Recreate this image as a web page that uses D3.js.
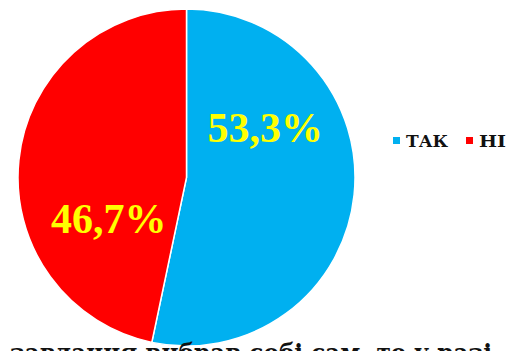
<!DOCTYPE html>
<html>
<head>
<meta charset="utf-8">
<script src="https://cdn.jsdelivr.net/npm/d3@7"></script>
<style>
  html, body { margin: 0; padding: 0; background: #fff; overflow: hidden; }
  svg { display: block; }
</style>
</head>
<body>
<svg id="chart" width="521" height="351"></svg>
<script>
// Survey answer shares (percent)
const categories = ["ТАК", "НІ"];
const values = [53.3, 46.7];
const colors = ["#00B0F0", "#FF0000"];
const caption = "завдання вибрав собі сам, то у разі";

const W = 521, H = 351;
const cx = 186.5, cy = 177.5, radius = 168.5;
const serif = "'DejaVu Serif Condensed', 'DejaVu Serif', serif";
const numSerif = "'Liberation Serif', 'Times New Roman', serif";

const svg = d3.select("#chart");
const g = svg.append("g").attr("transform", `translate(${cx},${cy})`);

const pie = d3.pie().sort(null).value(d => d.value);
const arcs = pie(categories.map((c, i) => ({ name: c, value: values[i] })));
const arc = d3.arc().innerRadius(0).outerRadius(radius);

g.selectAll("path.slice")
  .data(arcs)
  .join("path")
  .attr("class", "slice")
  .attr("d", arc)
  .attr("fill", (d, i) => colors[i])
  .attr("stroke", "#fff")
  .attr("stroke-width", 1.5);

// Value labels placed inside each slice (angle offset in degrees, radius)
const labelPlacement = [{ angle: 58, r: 93 }, { angle: 242, r: 88 }];
const fmt = v => v.toFixed(1).replace(".", ",") + "%";
g.selectAll("text.val")
  .data(arcs)
  .join("text")
  .attr("class", "val")
  .attr("x", (d, i) => labelPlacement[i].r * Math.sin(labelPlacement[i].angle * Math.PI / 180))
  .attr("y", (d, i) => -labelPlacement[i].r * Math.cos(labelPlacement[i].angle * Math.PI / 180))
  .attr("text-anchor", "middle")
  .attr("dominant-baseline", "central")
  .attr("font-family", numSerif)
  .attr("font-weight", "bold")
  .attr("font-size", 42)
  .attr("fill", "#FFFF00")
  .text(d => fmt(d.data.value));

// Legend
const legendX = [393, 466];
const legendW = [42, 27];
const legend = svg.append("g");
categories.forEach((c, i) => {
  legend.append("rect")
    .attr("x", legendX[i]).attr("y", 137)
    .attr("width", 7).attr("height", 7)
    .attr("fill", colors[i]);
  legend.append("text")
    .attr("x", legendX[i] + 13).attr("y", 147)
    .attr("font-family", serif)
    .attr("font-weight", "bold")
    .attr("font-size", 16)
    .attr("textLength", legendW[i])
    .attr("lengthAdjust", "spacingAndGlyphs")
    .attr("fill", "#111")
    .text(c);
});

// Body text line running under the chart, clipped by the frame
svg.append("text")
  .attr("x", 10).attr("y", 362)
  .attr("font-family", serif)
  .attr("font-weight", "bold")
  .attr("font-size", 26)
  .attr("textLength", 482)
  .attr("lengthAdjust", "spacingAndGlyphs")
  .attr("fill", "#111")
  .text(caption);
</script>
</body>
</html>
